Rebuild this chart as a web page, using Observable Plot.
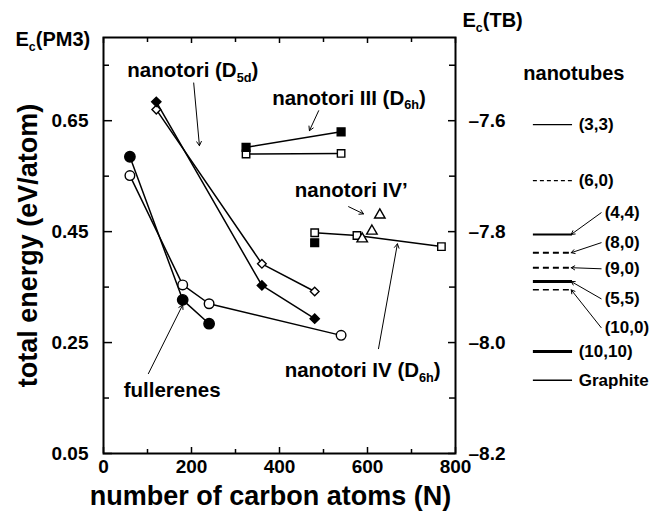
<!DOCTYPE html>
<html><head><meta charset="utf-8">
<script src="https://cdn.jsdelivr.net/npm/d3@7"></script>
<script src="https://cdn.jsdelivr.net/npm/@observablehq/plot@0.6"></script>
<style>body{margin:0;background:#fff}</style>
</head><body><div id="chart"></div>
<script>
// ---- data (N = number of carbon atoms, E = energy, eV/atom) ----
const fullFilledN = [60, 180, 240];
const fullFilledE = [0.585, 0.327, 0.284];
const fullOpenN = [60, 180, 240, 540];
const fullOpenE = [0.551, 0.354, 0.320, 0.263];
const d5dFilledN = [120, 360, 480];
const d5dFilledE = [0.684, 0.353, 0.293];
const d5dOpenN = [120, 360, 480];
const d5dOpenE = [0.670, 0.392, 0.342];
const t3FilledN = [324, 540];
const t3FilledE = [0.602, 0.630];
const t3OpenN = [324, 540];
const t3OpenE = [0.590, 0.591];
const t4OpenN = [480, 576, 768];
const t4OpenE = [0.448, 0.443, 0.423];
const t4FilledN = [480];
const t4FilledE = [0.430];
const t4pN = [588, 610, 628];
const t4pE = [0.437, 0.451, 0.480];

// nanotube reference energies on the TB axis
const tubeNames = ["(3,3)", "(6,0)", "(4,4)", "(8,0)", "(9,0)", "(5,5)", "(10,0)", "(10,10)", "Graphite"];
const tubeTB = [-7.607, -7.708, -7.805, -7.838, -7.865, -7.890, -7.905, -8.016, -8.068];

// ticks
const xMajor = [0, 200, 400, 600, 800];
const xMinor = [100, 300, 500, 700];
const yMajor = [0.65, 0.45, 0.25, 0.05];
const yMinor = [0.75, 0.55, 0.35, 0.15];
const tbTickLabels = ["\u20137.6", "\u20137.8", "\u20138.0", "\u20138.2"];
const tbOffset = 8.25; // PM3 axis value = TB value + 8.25 (alignment of the two axes)

// ---- layout / styles ----
const W = 649, H = 512, mL = 103, mR = 194, mT = 37, mB = 59;
const fw = W - mL - mR, fh = H - mT - mB;
const pts = (N, E) => N.map((n, i) => ({x: n, y: E[i]}));
const tubeWidth = [1.3, 1.3, 2, 2, 2, 3, 1.5, 3, 1.5];
const tubeDash = [null, "4,3", null, "6,4", "6,4", null, "6,4", null, null];
const tubeLabelMode = [0, 0, 1, 1, 1, 1, 1, 0, 0]; // 1 = label set aside with arrow
const tubeLabelE = [null, null, 0.484, 0.430, 0.383, 0.329, 0.277, null, null];
const legX1 = 977, legX2 = 1066, legInlineX = 1080, legSideX = 1139, legArrowX = 1131;

const tubes = tubeNames.map((name, i) => ({name, y: tubeTB[i] + tbOffset, i}));

const marks = [];
// frame and inward ticks
marks.push(Plot.frame({stroke: "black", strokeWidth: 2}));
marks.push(Plot.ruleX(xMajor, {x: d => d, insetTop: fh - 6, strokeWidth: 1.5}));
marks.push(Plot.ruleX(xMinor, {x: d => d, insetTop: fh - 4, strokeWidth: 1.5}));
marks.push(Plot.ruleX(xMajor, {x: d => d, insetBottom: fh - 6, strokeWidth: 1.5}));
marks.push(Plot.ruleX(xMinor, {x: d => d, insetBottom: fh - 5, strokeWidth: 1.5}));
marks.push(Plot.ruleY(yMajor, {y: d => d, insetRight: fw - 9, strokeWidth: 1.5}));
marks.push(Plot.ruleY(yMinor, {y: d => d, insetRight: fw - 6, strokeWidth: 1.5}));
marks.push(Plot.ruleY(yMajor, {y: d => d, insetLeft: fw - 7, strokeWidth: 1.5}));
marks.push(Plot.ruleY(yMinor, {y: d => d, insetLeft: fw - 6, strokeWidth: 1.5}));
// axis labels
marks.push(Plot.axisX({ticks: xMajor, tickSize: 0, tickPadding: 6, label: null, fontSize: 19}));
marks.push(Plot.axisY({anchor: "left", ticks: yMajor, tickSize: 0, tickPadding: 15, label: null, tickFormat: d3.format(".2f"), fontSize: 19}));
marks.push(Plot.axisY({anchor: "right", ticks: yMajor, tickSize: 0, tickPadding: 13, label: null,
  tickFormat: d => tbTickLabels[yMajor.indexOf(d)], fontSize: 19}));
marks.push(Plot.text(["number of carbon atoms (N)"], {frameAnchor: "bottom", dy: 43, dx: -9, fontSize: 27, textAnchor: "middle", lineAnchor: "middle"}));
marks.push(Plot.text(["total energy (eV/atom)"], {frameAnchor: "left", rotate: -90, dx: -75, fontSize: 27, textAnchor: "middle", lineAnchor: "middle"}));
marks.push(Plot.text(["E_{c}(PM3)"], {frameAnchor: "top-left", dx: -88, dy: 2, textAnchor: "start", lineAnchor: "middle", fontSize: 20}));
marks.push(Plot.text(["E_{c}(TB)"], {frameAnchor: "top-right", dx: 7, dy: -17, textAnchor: "start", lineAnchor: "middle", fontSize: 20}));

// series lines
const lineOpt = {x: "x", y: "y", stroke: "black", strokeWidth: 1.5};
[[fullFilledN, fullFilledE], [fullOpenN, fullOpenE], [d5dFilledN, d5dFilledE], [d5dOpenN, d5dOpenE],
 [t3FilledN, t3FilledE], [t3OpenN, t3OpenE], [t4OpenN, t4OpenE]].forEach(([N, E]) => marks.push(Plot.line(pts(N, E), lineOpt)));

// symbols
const dot = (N, E, symbol, r, filled) => Plot.dot(pts(N, E), {x: "x", y: "y", symbol, r,
  fill: filled ? "black" : "white", stroke: "black", strokeWidth: 1.4});
marks.push(dot(fullOpenN, fullOpenE, "circle", 4.8, false));
marks.push(dot(fullFilledN, fullFilledE, "circle", 5.2, true));
marks.push(dot(d5dOpenN, d5dOpenE, "diamond2", 3.9, false));
marks.push(dot(d5dFilledN, d5dFilledE, "diamond2", 4.2, true));
marks.push(dot(t3OpenN, t3OpenE, "square", 4.2, false));
marks.push(dot(t3FilledN, t3FilledE, "square", 4.4, true));
marks.push(dot(t4FilledN, t4FilledE, "square", 4.4, true));
marks.push(dot(t4OpenN, t4OpenE, "square", 4.2, false));
marks.push(dot(t4pN, t4pE, "triangle", 3.9, false));

// annotations
const annText = ["nanotori (D_{5d})", "nanotori III (D_{6h})", "nanotori IV\u2019", "nanotori IV (D_{6h})", "fullerenes"];
const annX = [203, 558, 563, 589, 156];
const annY = [0.740, 0.691, 0.524, 0.200, 0.163];
const arrows = [
  {x1: 205, y1: 0.718, x2: 218, y2: 0.605},
  {x1: 489, y1: 0.668, x2: 468, y2: 0.632},
  {x1: 557, y1: 0.495, x2: 591, y2: 0.482},
  {x1: 625, y1: 0.239, x2: 668, y2: 0.428},
  {x1: 102, y1: 0.194, x2: 180, y2: 0.318}
];
marks.push(Plot.text(annText.map((t, i) => ({t, x: annX[i], y: annY[i]})), {x: "x", y: "y", text: "t", fontSize: 20.5}));
marks.push(Plot.arrow(arrows, {x1: "x1", y1: "y1", x2: "x2", y2: "y2", stroke: "black", strokeWidth: 1, headLength: 7}));

// nanotube legend (right margin, on the TB scale)
marks.push(Plot.text(["nanotubes"], {x: () => 1069, y: () => 0.735, fontSize: 20}));
tubes.forEach(t => {
  marks.push(Plot.ruleY([t], {y: "y", x1: () => legX1, x2: () => legX2, stroke: "black",
    strokeWidth: tubeWidth[t.i], strokeDasharray: tubeDash[t.i] || undefined}));
});
marks.push(Plot.text(tubes.filter(t => !tubeLabelMode[t.i]), {x: () => legInlineX, y: "y", text: "name", textAnchor: "start", fontSize: 17}));
const sideTubes = tubes.filter(t => tubeLabelMode[t.i]).map(t => ({...t, ly: tubeLabelE[t.i]}));
marks.push(Plot.text(sideTubes, {x: () => legSideX, y: "ly", text: "name", textAnchor: "start", fontSize: 17}));
marks.push(Plot.arrow(sideTubes, {x1: () => legArrowX, y1: "ly", x2: () => legX2 - 3, y2: "y", stroke: "black", strokeWidth: 1, headLength: 6}));

const svg = Plot.plot({
  width: W, height: H,
  marginLeft: mL, marginRight: mR, marginTop: mT, marginBottom: mB,
  x: {domain: [0, 800]},
  y: {domain: [0.05, 0.80]},
  style: {fontFamily: "'Liberation Sans', Arial, Helvetica, sans-serif", fontWeight: "bold", fontSize: "19px", color: "black", background: "white", overflow: "visible"},
  marks
});

// subscripts: turn "_{...}" into tspans
d3.select(svg).selectAll("text").each(function() {
  const s = this.textContent;
  if (!s.includes("_{")) return;
  const parts = s.split(/_\{([^}]*)\}/);
  const sel = d3.select(this);
  sel.text(null);
  let afterSub = false;
  parts.forEach((p, k) => {
    if (!p) return;
    const ts = sel.append("tspan").text(p);
    if (k % 2 === 1) { ts.attr("font-size", "0.62em").attr("dy", "0.38em"); afterSub = true; }
    else if (afterSub) { ts.attr("dy", "-0.2356em"); afterSub = false; }
  });
});

document.getElementById("chart").appendChild(svg);
</script>
</body></html>
